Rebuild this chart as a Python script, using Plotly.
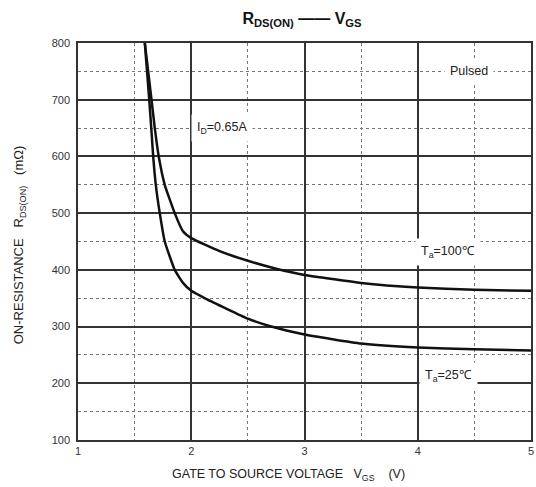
import plotly.graph_objects as go

# 25 degC curve (lower)
vgs_25 = [1.59, 1.629, 1.647, 1.664, 1.687, 1.722, 1.766, 1.854, 1.927, 2.00, 2.13, 2.50, 2.69, 3.00, 3.50, 4.00, 4.50, 5.00]
rds_25 = [800, 700, 650, 600, 550, 500, 450, 400, 377, 363, 349, 314, 301, 286, 270, 263, 260, 258]

# 100 degC curve (upper)
vgs_100 = [1.59, 1.649, 1.678, 1.713, 1.766, 1.854, 1.927, 2.00, 2.25, 2.50, 2.75, 3.00, 3.50, 4.00, 4.50, 5.00]
rds_100 = [800, 700, 650, 600, 550, 500, 468, 456, 433, 416, 402, 391, 377, 369, 365, 363]

x_ticks = [1, 2, 3, 4, 5]
y_ticks = [100, 200, 300, 400, 500, 600, 700, 800]

FONT = "Liberation Sans, Arial, sans-serif"

fig = go.Figure()
for xs, ys in [(vgs_100, rds_100), (vgs_25, rds_25)]:
    fig.add_trace(go.Scatter(x=xs, y=ys, mode="lines",
                             line=dict(color="#111111", width=2.5, shape="spline", smoothing=0.4),
                             showlegend=False, hoverinfo="skip"))

grid_major = dict(showgrid=True, gridcolor="#333333", gridwidth=1.6)
fig.update_xaxes(range=[1, 5], tickvals=x_ticks, ticktext=[str(v) for v in x_ticks],
                 showline=True, mirror=True, linecolor="#333333", linewidth=1.6,
                 ticks="", zeroline=False,
                 tickfont=dict(family=FONT, size=11, color="#333333"),
                 minor=dict(dtick=0.5, tick0=1, showgrid=True, griddash="dot",
                            gridcolor="#777777", gridwidth=1.2),
                 **grid_major)
fig.update_yaxes(range=[100, 800], tickvals=y_ticks, ticktext=[str(v) for v in y_ticks],
                 showline=True, mirror=True, linecolor="#333333", linewidth=1.6,
                 ticks="", zeroline=False, ticklabelstandoff=4,
                 tickfont=dict(family=FONT, size=11, color="#333333"),
                 minor=dict(dtick=50, tick0=100, showgrid=True, griddash="dot",
                            gridcolor="#777777", gridwidth=1.2),
                 **grid_major)

ann_font = dict(family=FONT, size=12.5, color="#222222")
annotations = [
    dict(x=4.45, y=750, text="Pulsed"),
    dict(x=2.27, y=650, text="I<sub>D</sub>=0.65A"),
    dict(x=4.27, y=432, text="T<sub>a</sub>=100℃"),
    dict(x=4.27, y=212, text="T<sub>a</sub>=25℃"),
]
for a in annotations:
    fig.add_annotation(x=a["x"], y=a["y"], xref="x", yref="y", text=a["text"],
                       showarrow=False, font=ann_font, bgcolor="white", borderpad=5)

fig.add_annotation(xref="paper", yref="paper", x=(289 - 78) / (533 - 78), y=-(475 - 440) / (440 - 43),
                   text="GATE TO SOURCE VOLTAGE&nbsp;&nbsp;&nbsp;V<sub>GS</sub>&nbsp;&nbsp;&nbsp;&nbsp;(V)",
                   showarrow=False, font=dict(family=FONT, size=12.5, color="#222222"),
                   xanchor="center", yanchor="middle")
fig.add_annotation(xref="paper", yref="paper", x=-(78 - 20) / (533 - 78), y=(440 - 245) / (440 - 43),
                   text="ON-RESISTANCE&nbsp;&nbsp;&nbsp;R<sub>DS(ON)</sub>&nbsp;&nbsp;&nbsp;(mΩ)",
                   showarrow=False, textangle=-90, font=dict(family=FONT, size=13, color="#222222"),
                   xanchor="center", yanchor="middle")

fig.update_layout(
    width=536, height=487,
    margin=dict(l=78, r=3, t=43, b=47),
    paper_bgcolor="white", plot_bgcolor="white",
    title=dict(text="<b>R<sub>DS(ON)</sub> —— V<sub>GS</sub></b>",
               x=302 / 536, xref="container", xanchor="center",
               y=1 - 18 / 487, yref="container", yanchor="middle",
               font=dict(family=FONT, size=16, color="#111111")),
)

fig.write_html("out.html")
